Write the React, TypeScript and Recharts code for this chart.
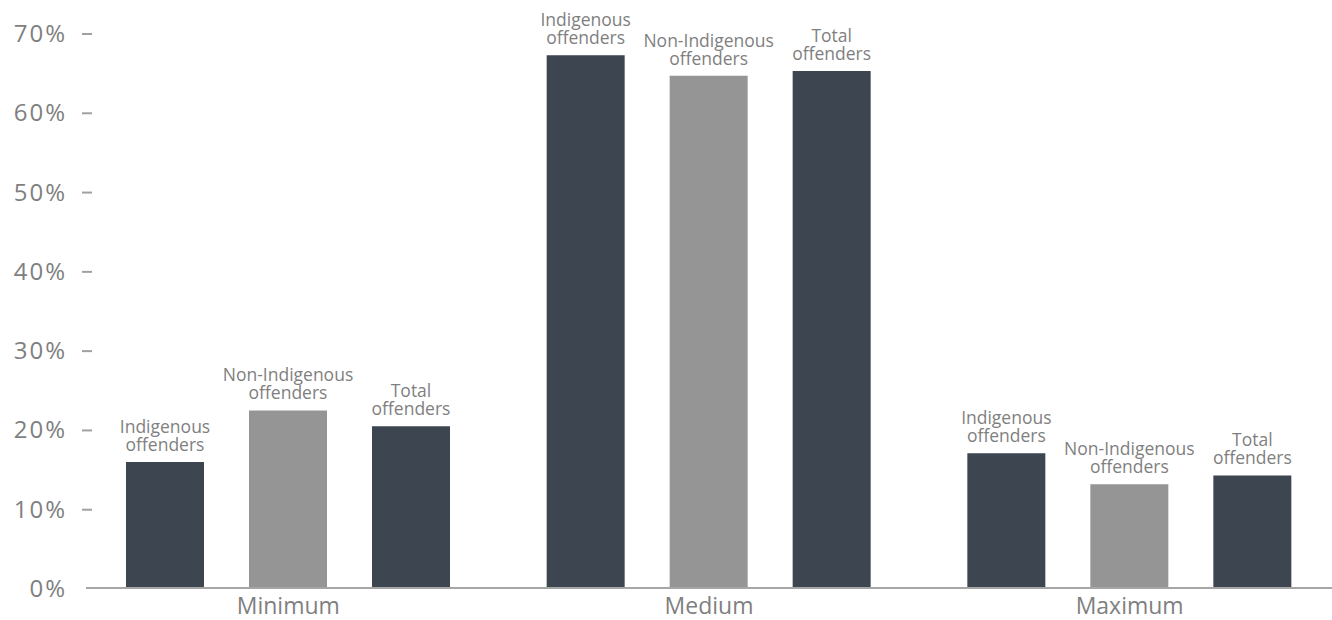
import { BarChart, Bar, XAxis, YAxis, LabelList } from "recharts";

const categories = ["Minimum", "Medium", "Maximum"];
const indigenous = [15.9, 67.2, 17.0];
const nonIndigenous = [22.4, 64.6, 13.1];
const total = [20.4, 65.2, 14.2];
const yTicks = [0, 10, 20, 30, 40, 50, 60, 70];

const indigenousLabel = ["Indigenous", "offenders"];
const nonIndigenousLabel = ["Non-Indigenous", "offenders"];
const totalLabel = ["Total", "offenders"];

const DARK = "#3c4550";
const GREY = "#959595";
const TEXT = "#7f7f7f";
const FONT = "'Open Sans', sans-serif";

const data = categories.map((c, i) => ({
  name: c,
  indigenous: indigenous[i],
  nonIndigenous: nonIndigenous[i],
  total: total[i],
}));

function YTick({ x, y, payload }: any) {
  return (
    <g>
      <text
        x={x - 19}
        y={y + 9}
        textAnchor="end"
        fill={TEXT}
        fontSize={24}
        letterSpacing={2}
        fontFamily={FONT}
      >
        {`${payload.value}%`}
      </text>
      {payload.value !== 0 && (
        <line x1={x - 4} x2={x + 6} y1={y + 1} y2={y + 1} stroke="#a0a0a0" strokeWidth={2} />
      )}
    </g>
  );
}

function XTick({ x, y, payload }: any) {
  return (
    <text x={x} y={y + 26} textAnchor="middle" fill={TEXT} fontSize={23} fontFamily={FONT}>
      {payload.value}
    </text>
  );
}

function twoLine(lines: string[]) {
  return (props: any) => {
    const { x, y, width } = props;
    const cx = x + width / 2;
    return (
      <text textAnchor="middle" fill={TEXT} fontSize={17.5} fontFamily={FONT}>
        <tspan x={cx} y={y - 29}>{lines[0]}</tspan>
        <tspan x={cx} y={y - 11}>{lines[1]}</tspan>
      </text>
    );
  };
}

export default function App() {
  return (
    <div style={{ position: "absolute", left: 0, top: 0, background: "#fff" }}>
      <BarChart
        width={1332}
        height={620}
        data={data}
        margin={{ top: 33, right: 0, bottom: 0, left: 0 }}
        barSize={78}
        barGap={45}
      >
        <YAxis
          domain={[0, 70]}
          ticks={yTicks}
          width={86}
          axisLine={false}
          tickLine={false}
          tickSize={0}
          tickMargin={0}
          tick={<YTick />}
          interval={0}
        />
        <XAxis
          dataKey="name"
          height={32}
          padding={{ left: -8, right: -8 }}
          axisLine={{ stroke: "#a6a6a6", strokeWidth: 2 }}
          tickLine={false}
          tickSize={0}
          tickMargin={0}
          tick={<XTick />}
        />
        <Bar dataKey="indigenous" fill={DARK} isAnimationActive={false}>
          <LabelList dataKey="indigenous" content={twoLine(indigenousLabel)} />
        </Bar>
        <Bar dataKey="nonIndigenous" fill={GREY} isAnimationActive={false}>
          <LabelList dataKey="nonIndigenous" content={twoLine(nonIndigenousLabel)} />
        </Bar>
        <Bar dataKey="total" fill={DARK} isAnimationActive={false}>
          <LabelList dataKey="total" content={twoLine(totalLabel)} />
        </Bar>
      </BarChart>
    </div>
  );
}
